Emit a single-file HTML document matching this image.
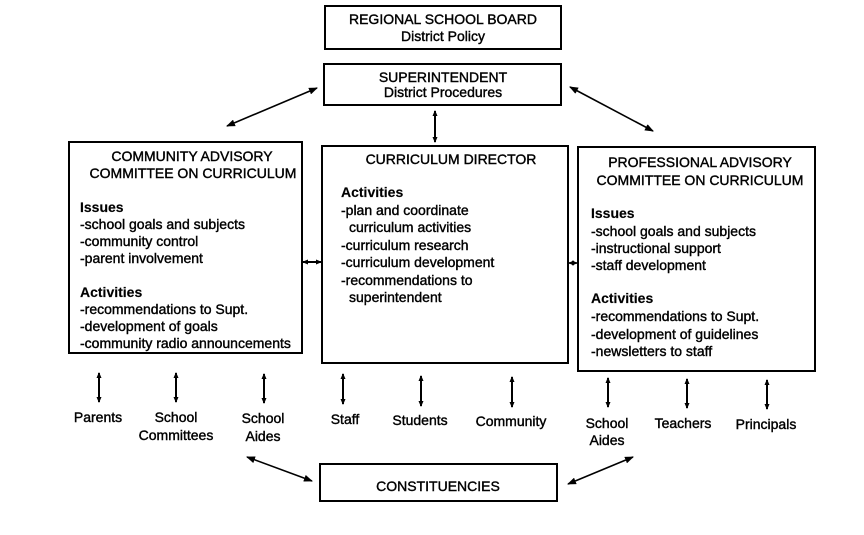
<!DOCTYPE html>
<html>
<head>
<meta charset="utf-8">
<style>
html,body{margin:0;padding:0;background:#fff;}
svg{display:block;}
text{font-family:"Liberation Sans",Arial,sans-serif;font-size:14px;fill:#000;stroke:#000;stroke-width:0.4px;}
.b{font-weight:bold;stroke-width:0.15px;}
.box{fill:#fff;stroke:#000;stroke-width:2;}
.ln{stroke:#000;stroke-width:2;fill:none;}
</style>
</head>
<body>
<svg width="864" height="535" viewBox="0 0 864 535" xmlns="http://www.w3.org/2000/svg">
<defs>
<marker id="ah" markerWidth="9" markerHeight="7" refX="8" refY="3.5" orient="auto-start-reverse" markerUnits="userSpaceOnUse">
<path d="M0,0 L9,3.5 L0,7 z" fill="#000"/>
</marker>
<marker id="as" markerWidth="6" markerHeight="6" refX="5" refY="3" orient="auto-start-reverse" markerUnits="userSpaceOnUse">
<path d="M0,0.5 L6,3 L0,5.5 z" fill="#000"/>
</marker>
</defs>

<!-- Top boxes -->
<rect class="box" x="325" y="6" width="236" height="43"/>
<text x="443" y="24" text-anchor="middle">REGIONAL SCHOOL BOARD</text>
<text x="443" y="41" text-anchor="middle">District Policy</text>

<rect class="box" x="324" y="64" width="237" height="41"/>
<text x="443" y="82" text-anchor="middle">SUPERINTENDENT</text>
<text x="443" y="97" text-anchor="middle">District Procedures</text>

<!-- top connectors -->
<line class="ln" x1="317" y1="88" x2="227" y2="126" marker-start="url(#ah)" marker-end="url(#ah)" style="stroke-width:1.6"/>
<line class="ln" x1="570" y1="87" x2="653" y2="131" marker-start="url(#ah)" marker-end="url(#ah)" style="stroke-width:1.6"/>
<line class="ln" x1="435" y1="111" x2="435" y2="142" marker-start="url(#as)" marker-end="url(#as)"/>

<!-- Left box -->
<rect class="box" x="69" y="142" width="233" height="211"/>
<text x="192" y="161" text-anchor="middle">COMMUNITY ADVISORY</text>
<text x="193" y="178" text-anchor="middle">COMMITTEE ON CURRICULUM</text>
<text class="b" x="80" y="212">Issues</text>
<text x="80" y="229">-school goals and subjects</text>
<text x="80" y="246">-community control</text>
<text x="80" y="263">-parent involvement</text>
<text class="b" x="80" y="297">Activities</text>
<text x="80" y="314">-recommendations to Supt.</text>
<text x="80" y="331">-development of goals</text>
<text x="80" y="348">-community radio announcements</text>

<!-- Middle box -->
<rect class="box" x="322" y="146" width="246" height="217"/>
<text x="451" y="164" text-anchor="middle">CURRICULUM DIRECTOR</text>
<text class="b" x="341" y="197">Activities</text>
<text x="341" y="215">-plan and coordinate</text>
<text x="349" y="232">curriculum activities</text>
<text x="341" y="250">-curriculum research</text>
<text x="341" y="267">-curriculum development</text>
<text x="341" y="285">-recommendations to</text>
<text x="349" y="302">superintendent</text>

<!-- Right box -->
<rect class="box" x="578" y="147" width="237" height="224"/>
<text x="700" y="167" text-anchor="middle">PROFESSIONAL ADVISORY</text>
<text x="700" y="185" text-anchor="middle">COMMITTEE ON CURRICULUM</text>
<text class="b" x="591" y="218">Issues</text>
<text x="591" y="236">-school goals and subjects</text>
<text x="591" y="253">-instructional support</text>
<text x="591" y="270">-staff development</text>
<text class="b" x="591" y="303">Activities</text>
<text x="591" y="321">-recommendations to Supt.</text>
<text x="591" y="339">-development of guidelines</text>
<text x="591" y="356">-newsletters to staff</text>

<!-- side connectors -->
<line class="ln" x1="303" y1="262" x2="321" y2="262" marker-start="url(#as)" marker-end="url(#as)"/>
<line class="ln" x1="569" y1="263" x2="577" y2="263" marker-start="url(#as)" marker-end="url(#as)" style="stroke-width:1.6"/>

<!-- bottom vertical arrows -->
<line class="ln" x1="99" y1="373" x2="99" y2="402" marker-start="url(#as)" marker-end="url(#as)"/>
<line class="ln" x1="176" y1="373" x2="176" y2="402" marker-start="url(#as)" marker-end="url(#as)"/>
<line class="ln" x1="264" y1="374" x2="264" y2="403" marker-start="url(#as)" marker-end="url(#as)"/>
<line class="ln" x1="343" y1="374" x2="343" y2="404" marker-start="url(#as)" marker-end="url(#as)"/>
<line class="ln" x1="421" y1="376" x2="421" y2="406" marker-start="url(#as)" marker-end="url(#as)"/>
<line class="ln" x1="512" y1="377" x2="512" y2="407" marker-start="url(#as)" marker-end="url(#as)"/>
<line class="ln" x1="608" y1="378" x2="608" y2="407" marker-start="url(#as)" marker-end="url(#as)"/>
<line class="ln" x1="687" y1="379" x2="687" y2="408" marker-start="url(#as)" marker-end="url(#as)"/>
<line class="ln" x1="767" y1="380" x2="767" y2="409" marker-start="url(#as)" marker-end="url(#as)"/>

<!-- bottom labels -->
<text x="98" y="422" text-anchor="middle">Parents</text>
<text x="176" y="422" text-anchor="middle">School</text>
<text x="176" y="440" text-anchor="middle">Committees</text>
<text x="263" y="423" text-anchor="middle">School</text>
<text x="263" y="441" text-anchor="middle">Aides</text>
<text x="345" y="424" text-anchor="middle">Staff</text>
<text x="420" y="425" text-anchor="middle">Students</text>
<text x="511" y="426" text-anchor="middle">Community</text>
<text x="607" y="428" text-anchor="middle">School</text>
<text x="607" y="445" text-anchor="middle">Aides</text>
<text x="683" y="428" text-anchor="middle">Teachers</text>
<text x="766" y="429" text-anchor="middle">Principals</text>

<!-- Constituencies -->
<rect class="box" x="320" y="464" width="237" height="37"/>
<text x="438" y="491" text-anchor="middle">CONSTITUENCIES</text>

<line class="ln" x1="247" y1="457" x2="312" y2="481" marker-start="url(#ah)" marker-end="url(#ah)" style="stroke-width:1.6"/>
<line class="ln" x1="568" y1="484" x2="633" y2="457" marker-start="url(#ah)" marker-end="url(#ah)" style="stroke-width:1.6"/>
</svg>
</body>
</html>
